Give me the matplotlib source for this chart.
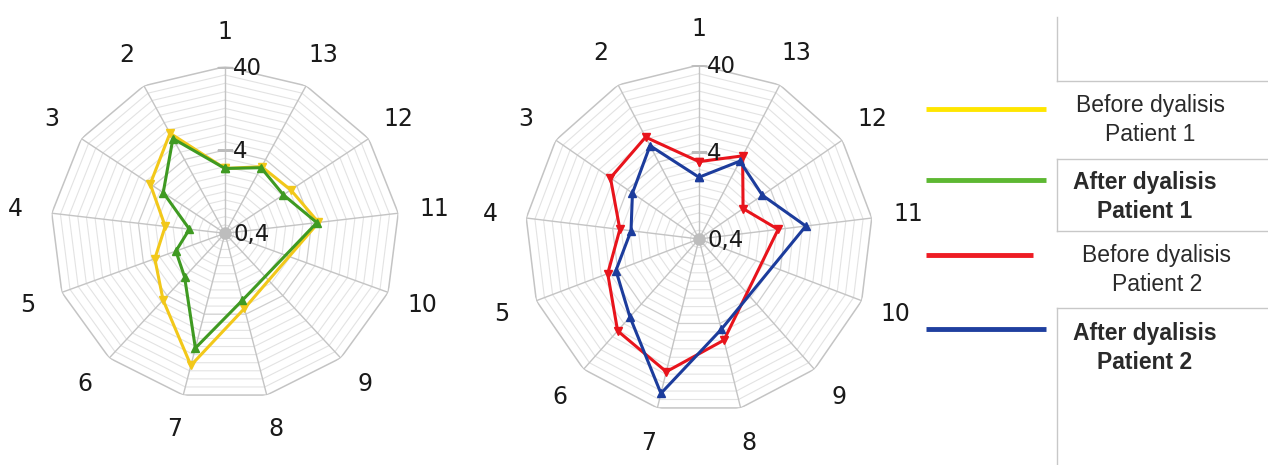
import numpy as np
import matplotlib
matplotlib.use("Agg")
import matplotlib.pyplot as plt
from matplotlib.lines import Line2D

nan = np.nan

# axis labels (13 spokes, 1 on top, counter-clockwise)
labels = ["1", "2", "3", "4", "5", "6", "7", "8", "9", "10", "11", "12", "13"]

# values (log scale 0.4 .. 40); spokes 9 and 10 have no value
before_p1 = [2.4, 9.1, 4.4, 1.96, 2.9, 4.7, 17.2, 3.4, nan, nan, 4.8, 3.3, 3.2]
after_p1 = [2.4, 7.7, 2.9, 1.03, 1.6, 2.0, 10.5, 2.7, nan, nan, 4.6, 2.6, 3.1]
before_p2 = [3.1, 8.4, 6.9, 3.3, 5.3, 10.3, 14.9, 6.3, nan, nan, 3.3, 1.65, 4.8]
after_p2 = [2.05, 6.5, 3.4, 2.45, 4.2, 6.3, 26.9, 4.7, nan, nan, 6.9, 3.07, 4.1]

rticks = [0.4, 4, 40]
rtick_labels = ["0,4", "4", "40"]

legend_names = ["Before dyalisis\nPatient 1", "After dyalisis\nPatient 1",
                "Before dyalisis\nPatient 2", "After dyalisis\nPatient 2"]

W, H = 1268, 465
fig = plt.figure(figsize=(W / 100, H / 100), dpi=100)

n = len(labels)
theta = np.arange(n) * 2 * np.pi / n
theta_closed = np.append(theta, theta[0])

rmin, rmax = 0.4, 40
minor_levels = [rmin * 10 ** (k / 10) for k in range(1, 20) if k != 10]


def radar(rect, series):
    ax = fig.add_axes(rect, projection="polar")
    ax.set_theta_offset(np.pi / 2)
    ax.set_rscale("log")
    ax.set_rlim(rmin, rmax)
    ax.set_aspect("auto")
    ax.grid(False)
    ax.set_xticks([])
    ax.set_yticks([])
    ax.set_yticks([], minor=True)
    ax.spines["polar"].set_visible(False)
    ax.patch.set_alpha(0)

    # polygon grid
    for lv in minor_levels:
        ax.plot(theta_closed, [lv] * (n + 1), color="#e3e3e3", lw=0.8, zorder=1)
    ax.plot(theta_closed, [4] * (n + 1), color="#cfcfcf", lw=0.9, zorder=1)
    ax.plot(theta_closed, [rmax] * (n + 1), color="#c4c4c4", lw=1.1, zorder=1)
    for t in theta:
        ax.plot([t, t], [rmin, rmax], color="#c4c4c4", lw=1.0, zorder=1)

    # spoke labels
    for t, lab in zip(theta, labels):
        ax.text(t, 105, lab, ha="center", va="center", fontsize=17,
                color="#1a1a1a", clip_on=False)

    # radial tick labels
    ax.plot([0, 0], [4, 40], ls="none", marker="_", ms=12, mew=1.0,
            color="#bdbdbd", zorder=2)
    ax.plot([0], [rmin], ls="none", marker="o", ms=8, color="#bdbdbd",
            zorder=2, clip_on=False)
    for v, s in zip(rticks, rtick_labels):
        ax.annotate(s, xy=(0, v), xytext=(6, -1), textcoords="offset points",
                    ha="left", va="center", fontsize=16.5, color="#1a1a1a",
                    annotation_clip=False, zorder=5)

    for vals, color, mk in series:
        vals = np.array(vals, dtype=float)
        ok = ~np.isnan(vals)
        t = np.append(theta[ok], theta[ok][0])
        v = np.append(vals[ok], vals[ok][0])
        ax.plot(t, v, color=color, lw=2.2, marker=mk, ms=6, zorder=4,
                clip_on=False)
    return ax


radar([50.5 / W, 1 - 399.9 / H, 349 / W, 333.2 / H],
      [(before_p1, "#f2c81a", "v"), (after_p1, "#3f9a22", "^")])
radar([525 / W, 1 - 413 / H, 348 / W, 348 / H],
      [(before_p2, "#e8141c", "v"), (after_p2, "#1c3c9c", "^")])

# legend drawn as in the reference (lines + text in boxes)
leg_colors = ["#ffe600", "#5db832", "#ee1c24", "#1f3f9f"]
leg_y = [109, 180, 255, 329]
leg_x1 = [1046, 1046, 1033, 1046]
text_x = [1150, 1145, 1157, 1145]
text_y = [120, 197, 270, 348]
text_w = ["normal", "bold", "normal", "bold"]

for c, y, x1, name, tx, ty, fw in zip(leg_colors, leg_y, leg_x1, legend_names,
                                      text_x, text_y, text_w):
    fig.add_artist(Line2D([926 / W, x1 / W], [1 - y / H, 1 - y / H],
                          color=c, lw=3.5, solid_capstyle="butt"))
    fig.text(tx / W, 1 - ty / H, name, ha="center", va="center",
             fontsize=16.5, family="Liberation Sans", fontweight=fw,
             color="#2a2a2a", linespacing=1.35)

box_col = "#c8c8c8"
bx = 1057 / W
segments = [
    ([bx, bx], [1 - 17 / H, 1 - 81 / H]),
    ([bx, 1.0], [1 - 81 / H, 1 - 81 / H]),
    ([bx, bx], [1 - 159 / H, 1 - 231 / H]),
    ([bx, 1.0], [1 - 159 / H, 1 - 159 / H]),
    ([bx, 1.0], [1 - 231 / H, 1 - 231 / H]),
    ([bx, bx], [1 - 308 / H, 0.0]),
    ([bx, 1.0], [1 - 308 / H, 1 - 308 / H]),
]
for xs, ys in segments:
    fig.add_artist(Line2D(xs, ys, color=box_col, lw=1.0))

fig.savefig("out.png", dpi=100)
